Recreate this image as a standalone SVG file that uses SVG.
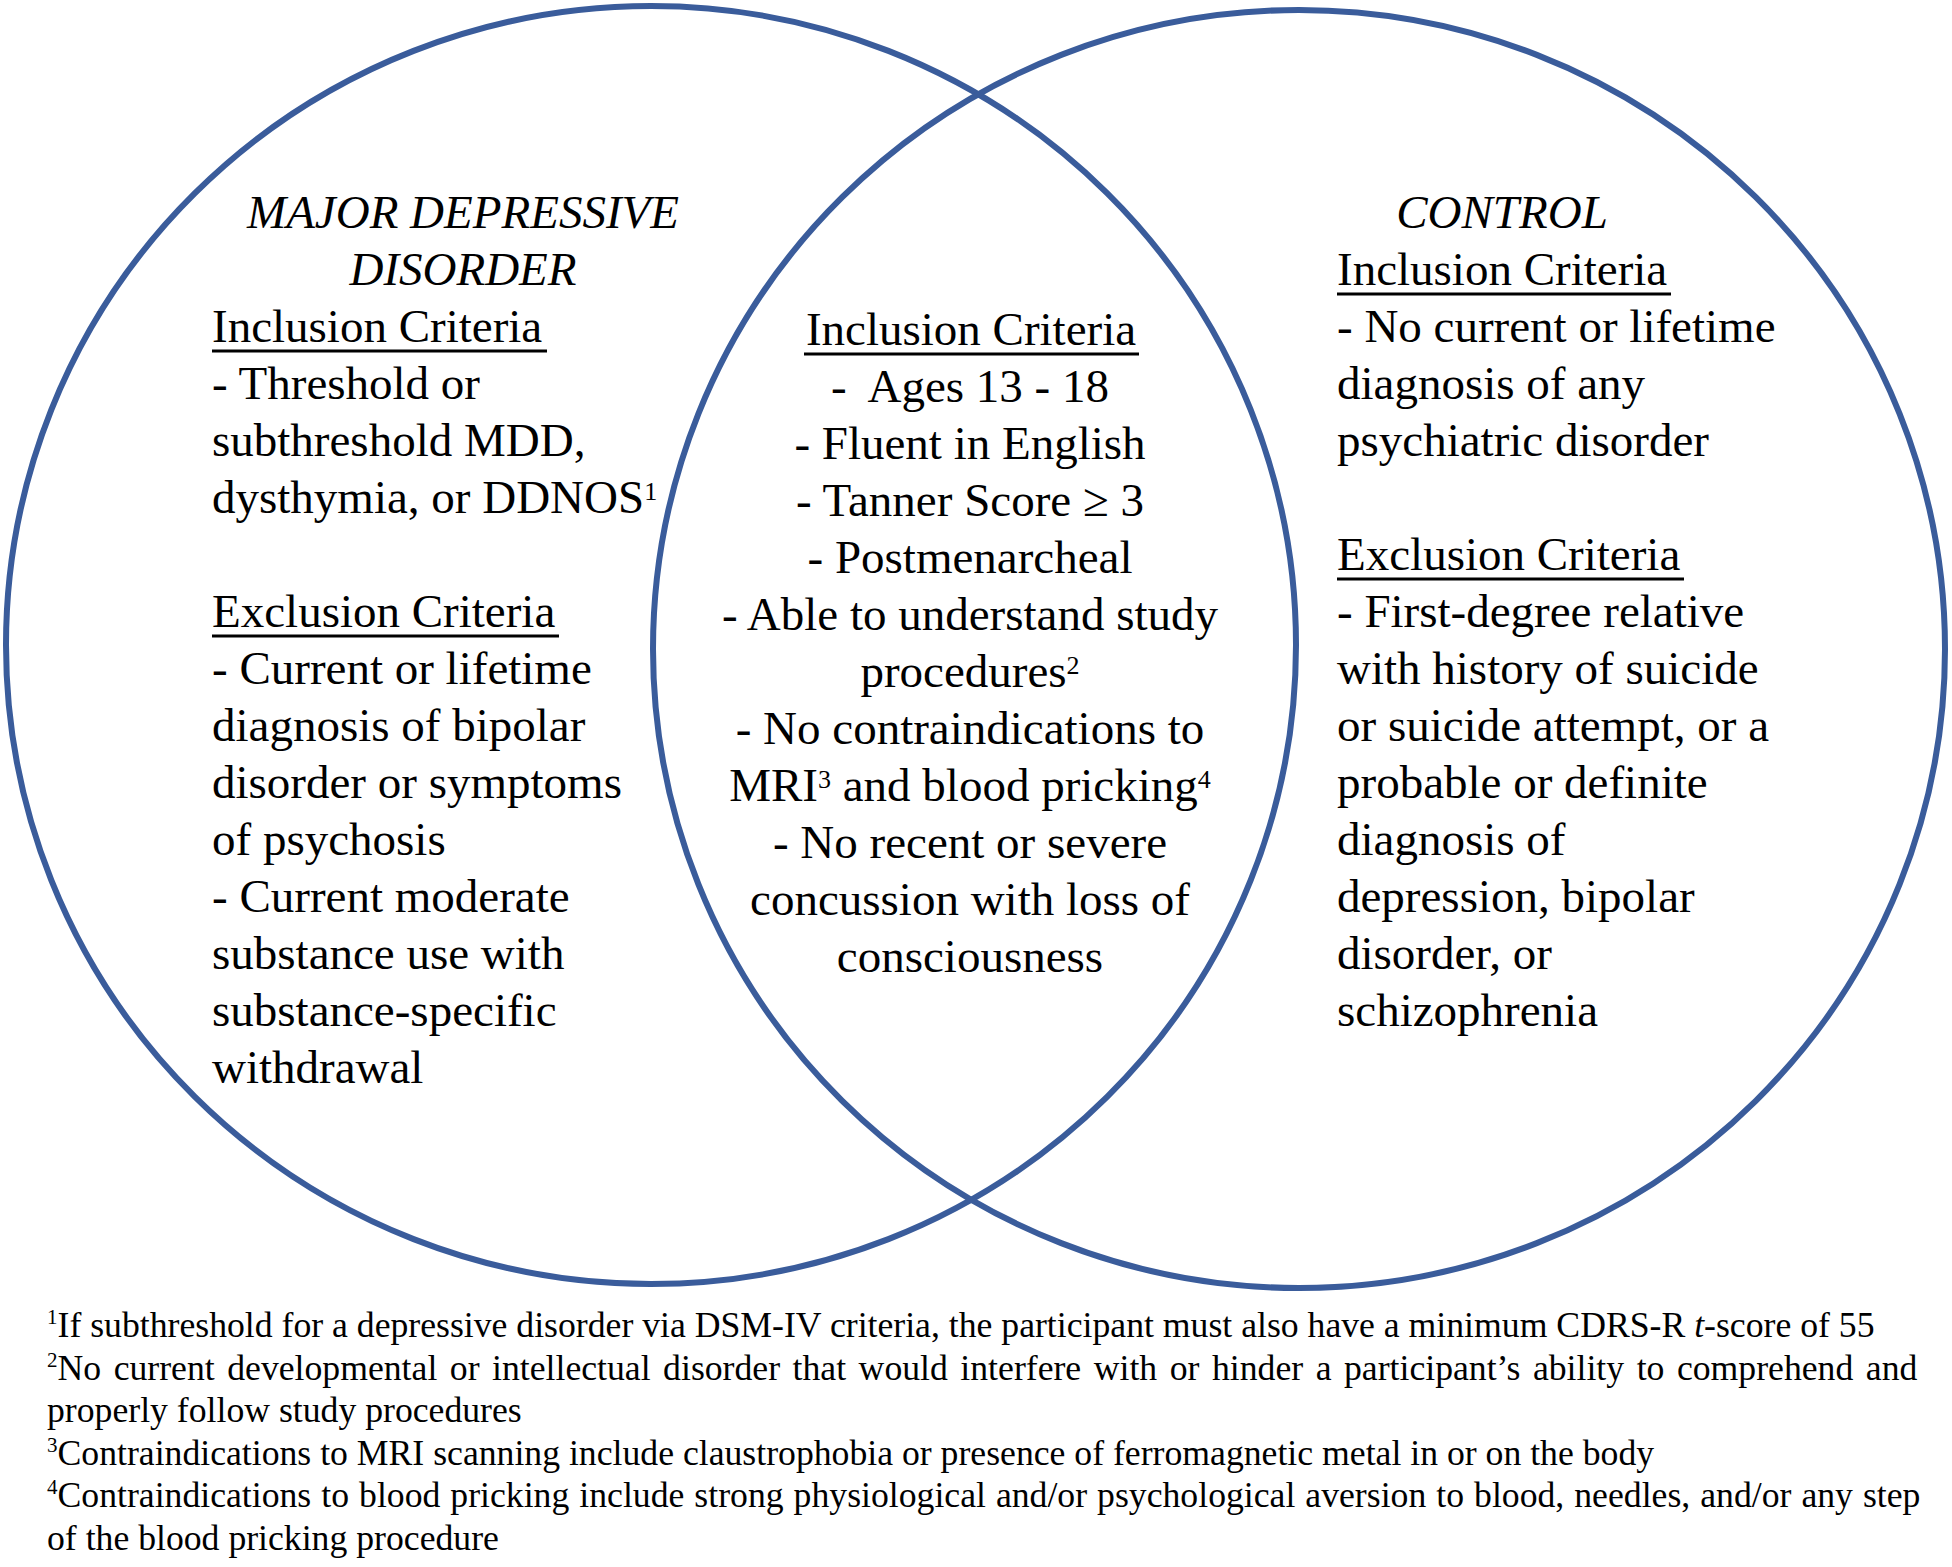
<svg xmlns="http://www.w3.org/2000/svg" width="1952" height="1567" viewBox="0 0 1952 1567">
<style>
.ring{fill:none;stroke:#3A5C9B;stroke-width:6}
.t{font-family:"Liberation Serif","Times New Roman",serif;font-size:47px;fill:#000}
.i{font-style:italic}
.c{text-anchor:middle}
.u{stroke:#000;stroke-width:3}
.f{font-family:"Liberation Serif","Times New Roman",serif;font-size:35.7px;fill:#000}
</style>
<rect width="1952" height="1567" fill="#fff"/>
<g id="connectors"/>
<g id="circle-mdd"><ellipse class="ring" cx="651" cy="645" rx="645" ry="639"/></g>
<g id="circle-control"><ellipse class="ring" cx="1299" cy="649" rx="646" ry="639"/></g>
<g id="mdd-text">
<text class="t i c" x="463" y="228">MAJOR DEPRESSIVE</text>
<text class="t i c" x="463" y="285">DISORDER</text>
<text class="t" x="212" y="342">Inclusion Criteria</text>
<line class="u" x1="212" y1="351" x2="547" y2="351"/>
<text class="t" x="212" y="399">- Threshold or</text>
<text class="t" x="212" y="456">subthreshold MDD,</text>
<text class="t" x="212" y="513">dysthymia, or DDNOS<tspan font-size="26" dy="-13">1</tspan></text>
<text class="t" x="212" y="627">Exclusion Criteria</text>
<line class="u" x1="212" y1="636" x2="559" y2="636"/>
<text class="t" x="212" y="684">- Current or lifetime</text>
<text class="t" x="212" y="741">diagnosis of bipolar</text>
<text class="t" x="212" y="798">disorder or symptoms</text>
<text class="t" x="212" y="855">of psychosis</text>
<text class="t" x="212" y="912">- Current moderate</text>
<text class="t" x="212" y="969">substance use with</text>
<text class="t" x="212" y="1026">substance-specific</text>
<text class="t" x="212" y="1083">withdrawal</text>
</g>
<g id="shared-text">
<text class="t c" x="971" y="345">Inclusion Criteria</text>
<line class="u" x1="804" y1="354" x2="1139" y2="354"/>
<text class="t c" x="970" y="402" xml:space="preserve">-  Ages 13 - 18</text>
<text class="t c" x="970" y="459">- Fluent in English</text>
<text class="t c" x="970" y="516">- Tanner Score ≥ 3</text>
<text class="t c" x="970" y="573">- Postmenarcheal</text>
<text class="t c" x="970" y="630">- Able to understand study</text>
<text class="t c" x="970" y="687">procedures<tspan font-size="26" dy="-13">2</tspan></text>
<text class="t c" x="970" y="744">- No contraindications to</text>
<text class="t c" x="970" y="801">MRI<tspan font-size="26" dy="-13">3</tspan><tspan dy="13"> and blood pricking</tspan><tspan font-size="26" dy="-13">4</tspan></text>
<text class="t c" x="970" y="858">- No recent or severe</text>
<text class="t c" x="970" y="915">concussion with loss of</text>
<text class="t c" x="970" y="972">consciousness</text>
</g>
<g id="control-text">
<text class="t i c" x="1502" y="228">CONTROL</text>
<text class="t" x="1337" y="285">Inclusion Criteria</text>
<line class="u" x1="1337" y1="294" x2="1671" y2="294"/>
<text class="t" x="1337" y="342">- No current or lifetime</text>
<text class="t" x="1337" y="399">diagnosis of any</text>
<text class="t" x="1337" y="456">psychiatric disorder</text>
<text class="t" x="1337" y="570">Exclusion Criteria</text>
<line class="u" x1="1337" y1="579" x2="1684" y2="579"/>
<text class="t" x="1337" y="627">- First-degree relative</text>
<text class="t" x="1337" y="684">with history of suicide</text>
<text class="t" x="1337" y="741">or suicide attempt, or a</text>
<text class="t" x="1337" y="798">probable or definite</text>
<text class="t" x="1337" y="855">diagnosis of</text>
<text class="t" x="1337" y="912">depression, bipolar</text>
<text class="t" x="1337" y="969">disorder, or</text>
<text class="t" x="1337" y="1026">schizophrenia</text>
</g>
<g id="footnotes">
<text class="f" x="47" y="1337"><tspan font-size="21" dy="-13">1</tspan><tspan dy="13">If subthreshold for a depressive disorder via DSM-IV criteria, the participant must also have a minimum CDRS-R </tspan><tspan font-style="italic">t</tspan>-score of 55</text>
<text class="f" x="47" y="1380" word-spacing="3.6"><tspan font-size="21" dy="-13">2</tspan><tspan dy="13">No current developmental or intellectual disorder that would interfere with or hinder a participant’s ability to comprehend and</tspan></text>
<text class="f" x="47" y="1422">properly follow study procedures</text>
<text class="f" x="47" y="1465"><tspan font-size="21" dy="-13">3</tspan><tspan dy="13">Contraindications to MRI scanning include claustrophobia or presence of ferromagnetic metal in or on the body</tspan></text>
<text class="f" x="47" y="1507" word-spacing="1.1"><tspan font-size="21" dy="-13">4</tspan><tspan dy="13">Contraindications to blood pricking include strong physiological and/or psychological aversion to blood, needles, and/or any step</tspan></text>
<text class="f" x="47" y="1550">of the blood pricking procedure</text>
</g>
</svg>
